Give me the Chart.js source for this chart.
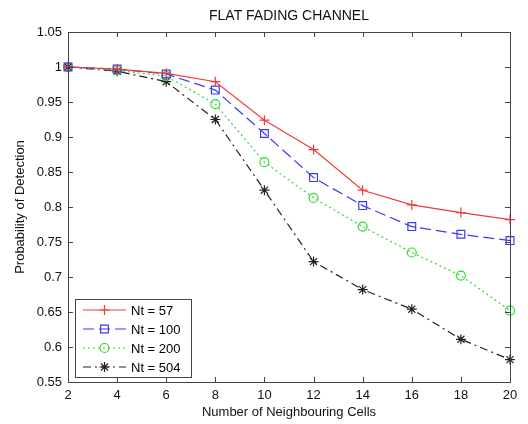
<!DOCTYPE html>
<html>
<head>
<meta charset="utf-8">
<script src="https://cdn.jsdelivr.net/npm/chart.js@4/dist/chart.umd.min.js"></script>
<style>
html,body{margin:0;padding:0;background:#fff;}
#wrap{width:528px;height:424px;position:relative;}
</style>
</head>
<body>
<div id="wrap"><canvas id="c" width="528" height="424"></canvas></div>
<script>
const neighbourCells = [2, 4, 6, 8, 10, 12, 14, 16, 18, 20];
const nt57  = [1.000, 0.997, 0.991, 0.979, 0.924, 0.882, 0.824, 0.803, 0.792, 0.782];
const nt100 = [1.000, 0.997, 0.990, 0.967, 0.905, 0.842, 0.802, 0.772, 0.761, 0.752];
const nt200 = [1.000, 0.995, 0.987, 0.947, 0.864, 0.813, 0.772, 0.735, 0.702, 0.652];
const nt504 = [1.000, 0.994, 0.979, 0.925, 0.824, 0.722, 0.682, 0.654, 0.611, 0.582];
const seriesLabels = ['Nt = 57', 'Nt = 100', 'Nt = 200', 'Nt = 504'];
const xTicks = [2, 4, 6, 8, 10, 12, 14, 16, 18, 20];
const yTicks = [0.55, 0.6, 0.65, 0.7, 0.75, 0.8, 0.85, 0.9, 0.95, 1, 1.05];

const FONT = '"Liberation Sans", Arial, sans-serif';
const AXIS_COLOR = '#444';

function pts(arr) { return neighbourCells.map((x, i) => ({x: x, y: arr[i]})); }

const datasets = [
  {label: seriesLabels[0], data: pts(nt57), borderColor: '#f23a3a', pointStyle: 'cross', pointRadius: 5, borderDash: []},
  {label: seriesLabels[1], data: pts(nt100), borderColor: '#3b3bf0', pointStyle: 'rect', pointRadius: 5.5, borderDash: [11, 5]},
  {label: seriesLabels[2], data: pts(nt200), borderColor: '#2fdc2f', pointStyle: 'circle', pointRadius: 4.5, borderDash: [2, 3]},
  {label: seriesLabels[3], data: pts(nt504), borderColor: '#222', pointStyle: 'star', pointRadius: 5, borderDash: [8, 4, 2, 4]}
].map(d => Object.assign(d, {
  pointBorderColor: d.borderColor,
  pointBackgroundColor: 'rgba(0,0,0,0)',
  pointBorderWidth: 1.2,
  borderWidth: 1.2,
  fill: false,
  tension: 0,
  clip: false
}));

const boxTicks = {
  id: 'boxTicks',
  afterDatasetsDraw(chart) {
    const {ctx, chartArea: a, scales} = chart;
    ctx.save();
    ctx.strokeStyle = AXIS_COLOR;
    ctx.lineWidth = 1;
    ctx.setLineDash([]);
    ctx.strokeRect(Math.round(a.left) + 0.5, Math.round(a.top) + 0.5, Math.round(a.right - a.left), Math.round(a.bottom - a.top));
    const L = 5;
    ctx.beginPath();
    xTicks.forEach(v => {
      const px = Math.round(scales.x.getPixelForValue(v)) + 0.5;
      ctx.moveTo(px, a.bottom); ctx.lineTo(px, a.bottom - L);
      ctx.moveTo(px, a.top); ctx.lineTo(px, a.top + L);
    });
    yTicks.forEach(v => {
      const py = Math.round(scales.y.getPixelForValue(v)) + 0.5;
      ctx.moveTo(a.left, py); ctx.lineTo(a.left + L, py);
      ctx.moveTo(a.right, py); ctx.lineTo(a.right - L, py);
    });
    ctx.stroke();
    ctx.restore();
  }
};

const insetLegend = {
  id: 'insetLegend',
  afterDraw(chart) {
    const {ctx, chartArea: a} = chart;
    const bx = a.left + 7, by = a.bottom - 83, bw = 116, bh = 78;
    ctx.save();
    ctx.fillStyle = '#fff';
    ctx.fillRect(bx, by, bw, bh);
    ctx.strokeStyle = AXIS_COLOR;
    ctx.lineWidth = 1;
    ctx.strokeRect(Math.round(bx) + 0.5, Math.round(by) + 0.5, bw, bh);
    chart.data.datasets.forEach((ds, i) => {
      const y = by + 11 + i * 19;
      const x0 = bx + 8, x1 = bx + 51;
      ctx.strokeStyle = ds.borderColor;
      ctx.lineWidth = ds.borderWidth;
      ctx.setLineDash(ds.borderDash);
      ctx.beginPath(); ctx.moveTo(x0, y); ctx.lineTo(x1, y); ctx.stroke();
      ctx.setLineDash([]);
      ctx.lineWidth = ds.pointBorderWidth;
      ctx.fillStyle = 'rgba(0,0,0,0)';
      ctx.strokeStyle = ds.borderColor;
      Chart.helpers.drawPoint(ctx, {pointStyle: ds.pointStyle, radius: ds.pointRadius, borderWidth: ds.pointBorderWidth, rotation: 0}, (x0 + x1) / 2, y);
      ctx.fillStyle = '#000';
      ctx.font = '13px ' + FONT;
      ctx.textBaseline = 'middle';
      ctx.textAlign = 'left';
      ctx.fillText(ds.label, bx + 56, y + 1);
    });
    ctx.restore();
  }
};

new Chart(document.getElementById('c'), {
  type: 'line',
  data: {datasets: datasets},
  plugins: [boxTicks, insetLegend],
  options: {
    responsive: false,
    animation: false,
    devicePixelRatio: 1,
    layout: {padding: {left: 0, right: 18, top: 0, bottom: 0}},
    plugins: {
      legend: {display: false},
      tooltip: {enabled: false},
      title: {
        display: true,
        text: 'FLAT FADING CHANNEL',
        fullSize: false,
        color: '#111',
        font: {family: FONT, size: 14, weight: 'normal', lineHeight: 1.2},
        padding: {top: 8, bottom: 7.2}
      }
    },
    scales: {
      x: {
        type: 'linear',
        min: 2, max: 20,
        afterFit(s) { s.height = 42; },
        afterBuildTicks(s) { s.ticks = xTicks.map(v => ({value: v})); },
        grid: {display: false, drawTicks: false},
        border: {display: true, color: AXIS_COLOR},
        ticks: {color: '#111', font: {family: FONT, size: 13}, padding: 6, maxRotation: 0, autoSkip: false,
                callback: v => String(v)},
        title: {display: true, text: 'Number of Neighbouring Cells', color: '#111',
                font: {family: FONT, size: 13}, padding: {top: 0, bottom: 4}}
      },
      y: {
        type: 'linear',
        min: 0.55, max: 1.05,
        afterFit(s) { s.width = 68; },
        afterBuildTicks(s) { s.ticks = yTicks.map(v => ({value: v})); },
        grid: {display: false, drawTicks: false},
        border: {display: true, color: AXIS_COLOR},
        ticks: {color: '#111', font: {family: FONT, size: 13}, padding: 6, autoSkip: false,
                callback: v => String(Number(v.toFixed(2)))},
        title: {display: true, text: 'Probability of Detection', color: '#111',
                font: {family: FONT, size: 13}, padding: {top: 13, bottom: 0}}
      }
    }
  }
});
</script>
</body>
</html>
